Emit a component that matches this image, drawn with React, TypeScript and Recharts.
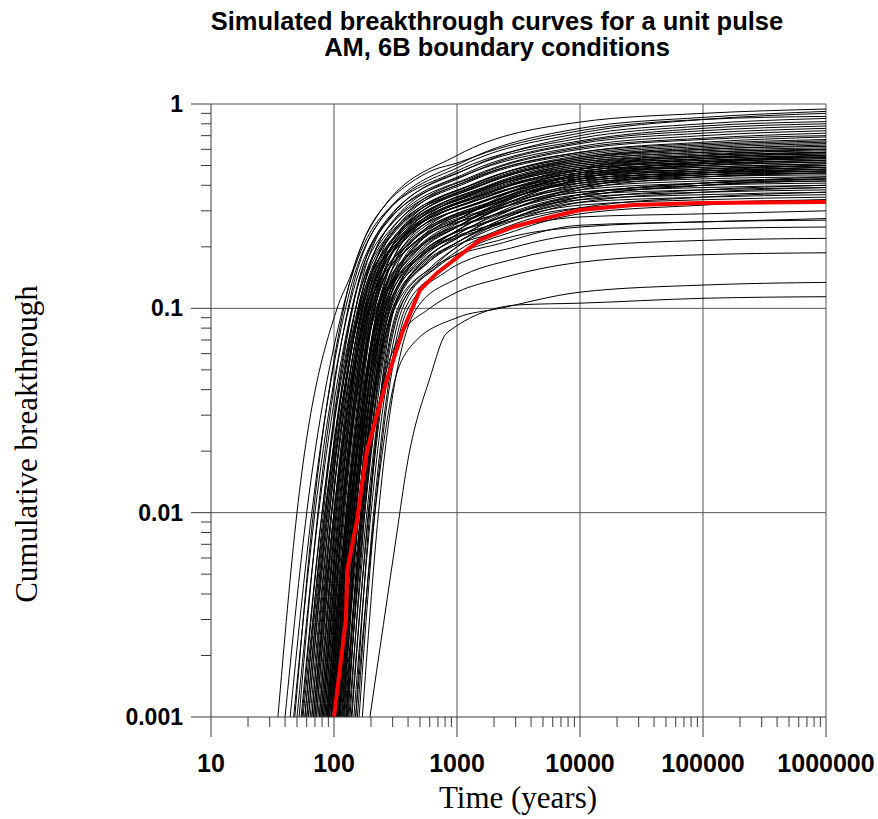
import React from 'react';
import { LineChart, Line, XAxis, YAxis, ReferenceLine } from 'recharts';

// tick values
const majorX = [10, 100, 1000, 10000, 100000, 1000000];
const xLabels = ['10', '100', '1000', '10000', '100000', '1000000'];
const minorX = [
  20, 30, 40, 50, 60, 70, 80, 90,
  200, 300, 400, 500, 600, 700, 800, 900,
  2000, 3000, 4000, 5000, 6000, 7000, 8000, 9000,
  20000, 30000, 40000, 50000, 60000, 70000, 80000, 90000,
  200000, 300000, 400000, 500000, 600000, 700000, 800000, 900000,
];
const majorY = [0.001, 0.01, 0.1, 1];
const yLabels = ['0.001', '0.01', '0.1', '1'];
const minorY = [
  0.002, 0.003, 0.004, 0.005, 0.006, 0.007, 0.008, 0.009,
  0.02, 0.03, 0.04, 0.05, 0.06, 0.07, 0.08, 0.09,
  0.2, 0.3, 0.4, 0.5, 0.6, 0.7, 0.8, 0.9,
];

// simulated realisations: [time (years), cumulative breakthrough]
const realisations: [number, number][][] = [
  [[35, 0.001], [50, 0.01], [106, 0.1], [135, 0.142], [185, 0.234], [270, 0.328], [415, 0.41], [640, 0.475], [1000, 0.514], [1740, 0.58], [10000, 0.74], [100000, 0.84], [1000000, 0.87]],
  [[48, 0.001], [68, 0.01], [120, 0.1], [240, 0.3], [1000, 0.56], [10000, 0.816], [100000, 0.9], [1000000, 0.945]],
  [[52, 0.001], [74, 0.01], [130, 0.1], [260, 0.29], [1200, 0.53], [10000, 0.76], [100000, 0.86], [1000000, 0.92]],
  [[44, 0.001], [66, 0.01], [124, 0.1], [250, 0.28], [1100, 0.5], [10000, 0.72], [100000, 0.84], [1000000, 0.9]],
  [[58, 0.001], [82, 0.01], [142, 0.1], [280, 0.28], [1200, 0.48], [10000, 0.7], [100000, 0.8], [1000000, 0.85]],
  [[40, 0.001], [60, 0.01], [118, 0.1], [230, 0.27], [1000, 0.47], [10000, 0.68], [100000, 0.78], [1000000, 0.82]],
  [[62, 0.001], [88, 0.01], [150, 0.1], [300, 0.29], [1300, 0.49], [10000, 0.66], [100000, 0.76], [1000000, 0.8]],
  [[55, 0.001], [80, 0.01], [140, 0.1], [280, 0.27], [1200, 0.46], [10000, 0.65], [100000, 0.74], [1000000, 0.78]],
  [[70, 0.001], [96, 0.01], [160, 0.1], [320, 0.28], [1400, 0.47], [10000, 0.64], [100000, 0.72], [1000000, 0.76]],
  [[47, 0.001], [70, 0.01], [132, 0.1], [260, 0.26], [1100, 0.44], [10000, 0.62], [100000, 0.7], [1000000, 0.74]],
  [[66, 0.001], [92, 0.01], [158, 0.1], [310, 0.27], [1300, 0.44], [10000, 0.61], [100000, 0.68], [1000000, 0.72]],
  [[76, 0.001], [104, 0.01], [172, 0.1], [340, 0.27], [1500, 0.45], [10000, 0.6], [100000, 0.67], [1000000, 0.7]],
  [[50, 0.001], [75, 0.01], [140, 0.1], [280, 0.25], [1200, 0.42], [10000, 0.58], [100000, 0.65], [1000000, 0.69]],
  [[80, 0.001], [110, 0.01], [180, 0.1], [360, 0.27], [1500, 0.44], [10000, 0.58], [100000, 0.64], [1000000, 0.67]],
  [[60, 0.001], [86, 0.01], [150, 0.1], [300, 0.25], [1300, 0.42], [10000, 0.57], [100000, 0.63], [1000000, 0.66]],
  [[88, 0.001], [118, 0.01], [190, 0.1], [380, 0.26], [1600, 0.42], [10000, 0.56], [100000, 0.62], [1000000, 0.65]],
  [[72, 0.001], [100, 0.01], [168, 0.1], [330, 0.25], [1400, 0.41], [10000, 0.55], [100000, 0.61], [1000000, 0.64]],
  [[54, 0.001], [80, 0.01], [150, 0.1], [300, 0.24], [1300, 0.4], [10000, 0.55], [100000, 0.6], [1000000, 0.63]],
  [[95, 0.001], [128, 0.01], [205, 0.1], [400, 0.26], [1700, 0.41], [10000, 0.54], [100000, 0.6], [1000000, 0.62]],
  [[64, 0.001], [92, 0.01], [162, 0.1], [320, 0.24], [1400, 0.4], [10000, 0.54], [100000, 0.59], [1000000, 0.61]],
  [[82, 0.001], [112, 0.01], [186, 0.1], [370, 0.25], [1600, 0.4], [10000, 0.53], [100000, 0.58], [1000000, 0.6]],
  [[58, 0.001], [85, 0.01], [156, 0.1], [310, 0.24], [1300, 0.39], [10000, 0.53], [100000, 0.58], [1000000, 0.6]],
  [[100, 0.001], [135, 0.01], [215, 0.1], [420, 0.25], [1800, 0.4], [10000, 0.52], [100000, 0.57], [1000000, 0.59]],
  [[68, 0.001], [96, 0.01], [170, 0.1], [340, 0.24], [1400, 0.39], [10000, 0.52], [100000, 0.56], [1000000, 0.58]],
  [[90, 0.001], [122, 0.01], [198, 0.1], [390, 0.25], [1700, 0.39], [10000, 0.51], [100000, 0.56], [1000000, 0.58]],
  [[74, 0.001], [104, 0.01], [178, 0.1], [350, 0.24], [1500, 0.38], [10000, 0.51], [100000, 0.55], [1000000, 0.57]],
  [[110, 0.001], [145, 0.01], [230, 0.1], [450, 0.25], [1900, 0.39], [10000, 0.5], [100000, 0.55], [1000000, 0.57]],
  [[62, 0.001], [90, 0.01], [165, 0.1], [330, 0.23], [1400, 0.37], [10000, 0.5], [100000, 0.54], [1000000, 0.56]],
  [[84, 0.001], [115, 0.01], [192, 0.1], [380, 0.24], [1600, 0.37], [10000, 0.49], [100000, 0.54], [1000000, 0.56]],
  [[78, 0.001], [108, 0.01], [182, 0.1], [360, 0.23], [1500, 0.37], [10000, 0.49], [100000, 0.53], [1000000, 0.55]],
  [[96, 0.001], [130, 0.01], [210, 0.1], [410, 0.24], [1800, 0.37], [10000, 0.48], [100000, 0.53], [1000000, 0.55]],
  [[56, 0.001], [84, 0.01], [160, 0.1], [320, 0.22], [1300, 0.36], [10000, 0.48], [100000, 0.52], [1000000, 0.54]],
  [[105, 0.001], [140, 0.01], [225, 0.1], [440, 0.24], [1900, 0.37], [10000, 0.48], [100000, 0.52], [1000000, 0.54]],
  [[70, 0.001], [100, 0.01], [176, 0.1], [350, 0.22], [1500, 0.36], [10000, 0.47], [100000, 0.51], [1000000, 0.53]],
  [[86, 0.001], [118, 0.01], [196, 0.1], [390, 0.23], [1700, 0.36], [10000, 0.47], [100000, 0.51], [1000000, 0.53]],
  [[115, 0.001], [152, 0.01], [240, 0.1], [470, 0.24], [2000, 0.36], [10000, 0.46], [100000, 0.5], [1000000, 0.52]],
  [[66, 0.001], [95, 0.01], [172, 0.1], [340, 0.22], [1400, 0.35], [10000, 0.46], [100000, 0.5], [1000000, 0.52]],
  [[92, 0.001], [125, 0.01], [205, 0.1], [400, 0.23], [1700, 0.35], [10000, 0.46], [100000, 0.49], [1000000, 0.51]],
  [[76, 0.001], [106, 0.01], [184, 0.1], [360, 0.22], [1500, 0.34], [10000, 0.45], [100000, 0.49], [1000000, 0.51]],
  [[120, 0.001], [158, 0.01], [250, 0.1], [490, 0.23], [2000, 0.35], [10000, 0.45], [100000, 0.48], [1000000, 0.5]],
  [[60, 0.001], [88, 0.01], [165, 0.1], [330, 0.21], [1400, 0.34], [10000, 0.44], [100000, 0.48], [1000000, 0.5]],
  [[98, 0.001], [132, 0.01], [215, 0.1], [420, 0.22], [1800, 0.34], [10000, 0.44], [100000, 0.47], [1000000, 0.49]],
  [[82, 0.001], [114, 0.01], [194, 0.1], [380, 0.22], [1600, 0.33], [10000, 0.44], [100000, 0.47], [1000000, 0.49]],
  [[125, 0.001], [165, 0.01], [260, 0.1], [500, 0.22], [2100, 0.34], [10000, 0.43], [100000, 0.46], [1000000, 0.48]],
  [[72, 0.001], [102, 0.01], [182, 0.1], [360, 0.21], [1500, 0.33], [10000, 0.43], [100000, 0.46], [1000000, 0.48]],
  [[108, 0.001], [144, 0.01], [232, 0.1], [450, 0.22], [1900, 0.33], [10000, 0.43], [100000, 0.46], [1000000, 0.47]],
  [[88, 0.001], [120, 0.01], [200, 0.1], [400, 0.21], [1700, 0.32], [10000, 0.42], [100000, 0.45], [1000000, 0.47]],
  [[130, 0.001], [170, 0.01], [270, 0.1], [520, 0.22], [2200, 0.33], [10000, 0.42], [100000, 0.45], [1000000, 0.46]],
  [[94, 0.001], [128, 0.01], [212, 0.1], [420, 0.21], [1800, 0.32], [10000, 0.41], [100000, 0.44], [1000000, 0.46]],
  [[78, 0.001], [110, 0.01], [192, 0.1], [380, 0.2], [1600, 0.31], [10000, 0.41], [100000, 0.44], [1000000, 0.45]],
  [[102, 0.001], [138, 0.01], [228, 0.1], [450, 0.21], [1900, 0.31], [10000, 0.4], [100000, 0.43], [1000000, 0.44]],
  [[84, 0.001], [118, 0.01], [205, 0.1], [410, 0.2], [1700, 0.3], [10000, 0.39], [100000, 0.42], [1000000, 0.43]],
  [[112, 0.001], [150, 0.01], [245, 0.1], [480, 0.2], [2000, 0.3], [10000, 0.38], [100000, 0.41], [1000000, 0.42]],
  [[68, 0.001], [100, 0.01], [190, 0.1], [380, 0.19], [1600, 0.29], [10000, 0.37], [100000, 0.4], [1000000, 0.41]],
  [[118, 0.001], [158, 0.01], [258, 0.1], [500, 0.2], [2100, 0.29], [10000, 0.37], [100000, 0.39], [1000000, 0.4]],
  [[90, 0.001], [126, 0.01], [220, 0.1], [440, 0.19], [1800, 0.28], [10000, 0.36], [100000, 0.38], [1000000, 0.39]],
  [[135, 0.001], [178, 0.01], [285, 0.1], [560, 0.19], [2300, 0.28], [10000, 0.35], [100000, 0.37], [1000000, 0.38]],
  [[98, 0.001], [135, 0.01], [240, 0.1], [480, 0.18], [2000, 0.27], [10000, 0.34], [100000, 0.36], [1000000, 0.37]],
  [[150, 0.001], [195, 0.01], [310, 0.1], [600, 0.18], [2500, 0.27], [10000, 0.33], [100000, 0.35], [1000000, 0.36]],
  [[106, 0.001], [145, 0.01], [260, 0.1], [520, 0.18], [2100, 0.26], [10000, 0.32], [100000, 0.34], [1000000, 0.35]],
  [[80, 0.001], [115, 0.01], [225, 0.1], [450, 0.17], [1900, 0.25], [10000, 0.31], [100000, 0.33], [1000000, 0.34]],
  [[125, 0.001], [168, 0.01], [300, 0.1], [600, 0.17], [2400, 0.24], [10000, 0.28], [100000, 0.29], [1000000, 0.3]],
  [[140, 0.001], [190, 0.01], [340, 0.1], [700, 0.16], [2500, 0.22], [10000, 0.25], [100000, 0.265], [1000000, 0.27]],
  [[115, 0.001], [160, 0.01], [310, 0.1], [650, 0.16], [2400, 0.21], [10000, 0.255], [100000, 0.265], [1000000, 0.275]],
  [[160, 0.001], [215, 0.01], [400, 0.1], [800, 0.15], [3000, 0.2], [10000, 0.23], [100000, 0.245], [1000000, 0.25]],
  [[170, 0.001], [230, 0.01], [470, 0.1], [1000, 0.14], [3000, 0.175], [10000, 0.2], [100000, 0.215], [1000000, 0.22]],
  [[128, 0.001], [175, 0.01], [330, 0.07], [600, 0.1], [1000, 0.12], [2240, 0.14], [10000, 0.168], [100000, 0.183], [1000000, 0.187]],
  [[150, 0.001], [215, 0.01], [300, 0.04], [420, 0.065], [1000, 0.09], [2240, 0.1], [10000, 0.12], [100000, 0.13], [1000000, 0.134]],
  [[196, 0.001], [325, 0.008], [390, 0.0167], [605, 0.046], [830, 0.076], [3200, 0.104], [10000, 0.106], [100000, 0.112], [1000000, 0.114]],
  // slower realisations on the right-hand side of the bundle
  [[105, 0.001], [150, 0.01], [270, 0.1], [520, 0.17], [1000, 0.22], [3000, 0.3], [10000, 0.36], [100000, 0.41], [1000000, 0.43]],
  [[112, 0.001], [160, 0.01], [290, 0.1], [560, 0.17], [1000, 0.21], [3000, 0.28], [10000, 0.34], [100000, 0.38], [1000000, 0.4]],
  [[95, 0.001], [140, 0.01], [250, 0.1], [480, 0.18], [1000, 0.24], [3000, 0.33], [10000, 0.4], [100000, 0.46], [1000000, 0.48]],
  [[120, 0.001], [170, 0.01], [300, 0.1], [580, 0.17], [1000, 0.21], [3000, 0.29], [10000, 0.35], [100000, 0.4], [1000000, 0.42]],
  [[88, 0.001], [132, 0.01], [240, 0.1], [460, 0.19], [1000, 0.26], [3000, 0.35], [10000, 0.42], [100000, 0.48], [1000000, 0.5]],
  [[132, 0.001], [185, 0.01], [330, 0.1], [620, 0.16], [1000, 0.2], [3000, 0.27], [10000, 0.33], [100000, 0.37], [1000000, 0.39]],
  [[100, 0.001], [145, 0.01], [262, 0.1], [500, 0.18], [1000, 0.23], [3000, 0.32], [10000, 0.39], [100000, 0.45], [1000000, 0.47]],
  [[145, 0.001], [200, 0.01], [360, 0.1], [680, 0.16], [1000, 0.19], [3000, 0.26], [10000, 0.31], [100000, 0.35], [1000000, 0.37]],
  [[92, 0.001], [136, 0.01], [245, 0.1], [470, 0.19], [1000, 0.25], [3000, 0.34], [10000, 0.43], [100000, 0.5], [1000000, 0.53]],
  [[116, 0.001], [165, 0.01], [285, 0.1], [550, 0.18], [1000, 0.23], [3000, 0.31], [10000, 0.38], [100000, 0.44], [1000000, 0.46]],
  [[86, 0.001], [128, 0.01], [232, 0.1], [450, 0.2], [1000, 0.27], [3000, 0.37], [10000, 0.45], [100000, 0.52], [1000000, 0.55]],
  [[126, 0.001], [178, 0.01], [310, 0.1], [600, 0.17], [1000, 0.21], [3000, 0.29], [10000, 0.36], [100000, 0.41], [1000000, 0.44]],
  [[108, 0.001], [155, 0.01], [275, 0.1], [530, 0.18], [1000, 0.24], [3000, 0.33], [10000, 0.41], [100000, 0.47], [1000000, 0.5]],
  [[98, 0.001], [142, 0.01], [255, 0.1], [490, 0.19], [1000, 0.25], [3000, 0.35], [10000, 0.44], [100000, 0.52], [1000000, 0.56]],
  [[138, 0.001], [192, 0.01], [345, 0.1], [650, 0.16], [1000, 0.2], [3000, 0.28], [10000, 0.35], [100000, 0.4], [1000000, 0.43]],
  [[103, 0.001], [148, 0.01], [268, 0.1], [510, 0.19], [1000, 0.25], [3000, 0.36], [10000, 0.46], [100000, 0.54], [1000000, 0.58]],
  [[122, 0.001], [172, 0.01], [305, 0.1], [590, 0.18], [1000, 0.22], [3000, 0.31], [10000, 0.39], [100000, 0.46], [1000000, 0.49]],
  [[90, 0.001], [134, 0.01], [238, 0.1], [460, 0.2], [1000, 0.27], [3000, 0.38], [10000, 0.48], [100000, 0.56], [1000000, 0.6]],
  [[155, 0.001], [210, 0.01], [380, 0.1], [700, 0.15], [1000, 0.18], [3000, 0.24], [10000, 0.29], [100000, 0.32], [1000000, 0.34]],
  [[110, 0.001], [158, 0.01], [280, 0.1], [540, 0.19], [1000, 0.24], [3000, 0.34], [10000, 0.43], [100000, 0.51], [1000000, 0.55]],
];

// highlighted (red) curve
const highlighted: [number, number][] = [
  [100, 0.001], [125, 0.003], [128, 0.0052], [154, 0.0092], [185, 0.02], [270, 0.045], [364, 0.078],
  [500, 0.123], [690, 0.149], [1060, 0.182], [1540, 0.216], [2850, 0.25], [5400, 0.277], [10000, 0.303],
  [27000, 0.32], [95000, 0.328], [1000000, 0.331],
];

const toRows = (pts: [number, number][]) => pts.map(([x, y]) => ({ x, y }));

const axisColor = '#3a3a3a';
const gridColor = '#555555';
const tickFont = '"Liberation Sans", Arial, sans-serif';

const XTick = (props: any) => {
  const { x, y, payload } = props;
  const i = majorX.indexOf(payload.value);
  return (
    <g>
      <line x1={x} x2={x} y1={y} y2={y + (i >= 0 ? 20 : 10)} stroke={axisColor} />
      {i >= 0 && (
        <text x={x} y={y + 46} dy="0.35em" textAnchor="middle" fontFamily={tickFont} fontWeight="bold" fontSize={25} fill="#000">
          {xLabels[i]}
        </text>
      )}
    </g>
  );
};

const YTick = (props: any) => {
  const { x, y, payload } = props;
  const i = majorY.indexOf(payload.value);
  return (
    <g>
      <line x1={x - (i >= 0 ? 20 : 10)} x2={x} y1={y} y2={y} stroke={axisColor} />
      {i >= 0 && (
        <text x={x - 28} y={y} dy="0.35em" textAnchor="end" fontFamily={tickFont} fontWeight="bold" fontSize={23} fill="#000">
          {yLabels[i]}
        </text>
      )}
    </g>
  );
};

export default function App() {
  return (
    <div style={{ position: 'absolute', left: 0, top: 0, width: 878, height: 819, background: '#fff' }}>
      <LineChart width={878} height={819} margin={{ top: 104, right: 52, bottom: 0, left: 0 }}>
        <XAxis
          dataKey="x"
          type="number"
          scale="log"
          domain={[10, 1000000]}
          allowDataOverflow
          ticks={[...majorX, ...minorX].sort((a, b) => a - b)}
          interval={0}
          tickSize={0}
          tickMargin={0}
          tickLine={false}
          tick={XTick}
          height={102}
          axisLine={{ stroke: axisColor }}
        />
        <YAxis
          type="number"
          scale="log"
          domain={[0.001, 1]}
          allowDataOverflow
          ticks={[...majorY, ...minorY].sort((a, b) => a - b)}
          interval={0}
          tickSize={0}
          tickMargin={0}
          tickLine={false}
          tick={YTick}
          width={211}
          axisLine={{ stroke: axisColor }}
        />
        {[100, 1000, 10000, 100000, 1000000].map((v) => (
          <ReferenceLine key={'vx' + v} x={v} stroke={gridColor} strokeWidth={1} />
        ))}
        {[0.01, 0.1, 1].map((v) => (
          <ReferenceLine key={'hy' + v} y={v} stroke={gridColor} strokeWidth={1} />
        ))}
        {realisations.map((c, i) => (
          <Line
            key={i}
            data={toRows(c)}
            dataKey="y"
            type="monotone"
            stroke="#000"
            strokeWidth={1}
            dot={false}
            activeDot={false}
            isAnimationActive={false}
          />
        ))}
        <Line
          data={toRows(highlighted)}
          dataKey="y"
          type="linear"
          stroke="#ff0000"
          strokeWidth={4}
          dot={false}
          activeDot={false}
          isAnimationActive={false}
        />
      </LineChart>
      <svg width={878} height={819} style={{ position: 'absolute', left: 0, top: 0, pointerEvents: 'none' }}>
        <text x={497} y={30} textAnchor="middle" fontFamily={tickFont} fontWeight="bold" fontSize={25.5} fill="#000">
          Simulated breakthrough curves for a unit pulse
        </text>
        <text x={497} y={56} textAnchor="middle" fontFamily={tickFont} fontWeight="bold" fontSize={25.5} fill="#000">
          AM, 6B boundary conditions
        </text>
        <text x={518} y={808} textAnchor="middle" fontFamily='"Liberation Serif", "Times New Roman", serif' fontSize={31} fill="#000">
          Time (years)
        </text>
        <text
          transform="translate(37, 444) rotate(-90)"
          textAnchor="middle"
          fontFamily='"Liberation Serif", "Times New Roman", serif'
          fontSize={31}
          fill="#000"
        >
          Cumulative breakthrough
        </text>
      </svg>
    </div>
  );
}
